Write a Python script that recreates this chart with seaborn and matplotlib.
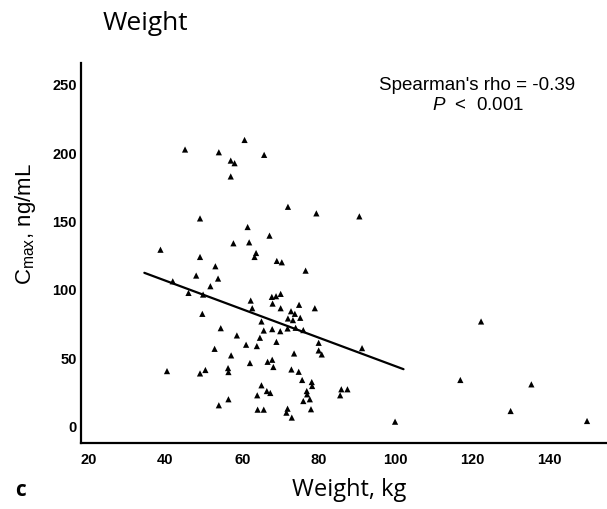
import matplotlib
matplotlib.use("Agg")
import matplotlib.pyplot as plt
from matplotlib.font_manager import FontProperties
import seaborn as sns
import pandas as pd

# Body weight (kg) and peak concentration (ng/mL) per subject
weight = [45.1, 53.9, 60.6, 65.7, 57.0, 58.0, 57.0, 71.9, 79.3, 90.5,
          49.0, 61.4, 67.1, 61.8, 57.7, 38.7, 63.6, 63.2, 49.0, 69.0,
          70.3, 53.0, 76.5, 48.0, 53.7, 41.9, 51.7, 46.0, 49.8, 70.0,
          67.7, 68.8, 62.2, 74.8, 67.9, 62.6, 70.0, 78.9, 72.7, 73.7,
          49.6, 75.1, 71.9, 73.2, 65.0, 122.2, 54.4, 71.8, 73.9, 67.8,
          65.6, 75.9, 69.9, 58.6, 64.6, 68.9, 79.9, 61.0, 63.8, 91.2,
          52.8, 79.9, 80.7, 73.5, 57.1, 62.0, 66.6, 67.8, 68.1, 56.3,
          56.4, 40.4, 50.4, 49.0, 72.8, 74.7, 75.6, 116.8, 78.1, 78.2,
          65.0, 135.3, 66.4, 67.3, 76.8, 76.9, 85.8, 87.4, 85.5, 63.9,
          77.6, 56.4, 75.9, 53.9, 71.8, 77.9, 64.0, 65.6, 71.5, 129.9,
          72.9, 99.8, 149.8]
cmax = [202.7, 200.7, 209.7, 198.8, 194.6, 192.7, 183.0, 160.8, 156.0, 153.8,
        152.3, 146.0, 139.7, 134.8, 134.1, 129.4, 127.0, 124.1, 124.1, 121.2,
        120.2, 117.3, 114.1, 110.5, 108.3, 106.3, 102.7, 97.8, 96.6, 97.1,
        94.9, 95.4, 92.2, 89.1, 90.0, 86.6, 86.6, 86.6, 84.4, 82.5,
        82.5, 79.6, 79.1, 77.9, 76.9, 76.9, 72.0, 71.8, 72.3, 71.3,
        70.3, 70.6, 69.8, 66.7, 65.0, 62.0, 61.3, 59.9, 58.9, 57.4,
        56.9, 55.7, 52.8, 53.5, 52.1, 46.5, 47.4, 48.9, 43.6, 42.8,
        39.9, 40.6, 41.4, 38.9, 41.8, 40.1, 34.1, 34.1, 32.6, 29.7,
        30.2, 30.9, 26.0, 24.6, 26.0, 23.6, 27.3, 27.3, 22.9, 22.9,
        20.0, 20.0, 18.7, 15.6, 13.1, 12.7, 12.4, 12.4, 10.2, 11.4,
        6.6, 3.6, 4.1]

# Trend line end points
fit_x = [34.5, 102.0]
fit_y = [112.5, 42.0]

x_ticks = [20, 40, 60, 80, 100, 120, 140]
y_ticks = [0, 50, 100, 150, 200, 250]

sns.set_style("white")
plt.rcParams["font.family"] = ["Open Sans", "DejaVu Sans"]
plt.rcParams["text.color"] = "black"
plt.rcParams["mathtext.fontset"] = "custom"
plt.rcParams["mathtext.rm"] = "Liberation Sans"
plt.rcParams["mathtext.it"] = "Liberation Sans:italic"

df = pd.DataFrame({"weight": weight, "cmax": cmax})
fit = pd.DataFrame({"x": fit_x, "y": fit_y})

fig = plt.figure(figsize=(6.07, 5.09), dpi=100)
ax = fig.add_axes([81 / 607, 66 / 509, 526 / 607, 380 / 509])

sns.scatterplot(data=df, x="weight", y="cmax", marker="^", s=20,
                color="black", edgecolor="none", ax=ax)
sns.lineplot(data=fit, x="x", y="y", color="black", linewidth=1.6, ax=ax)

ax.set_xlim(18, 155)
ax.set_ylim(-12, 266)
ax.set_xticks(x_ticks)
ax.set_yticks(y_ticks)
ax.set_xticklabels([str(t) for t in x_ticks])
ax.set_yticklabels([str(t) for t in y_ticks])
tick_fp = FontProperties(family=["Liberation Sans Narrow", "Liberation Sans"],
                         weight="bold", size=10.5)
for lab in ax.get_xticklabels() + ax.get_yticklabels():
    lab.set_fontproperties(tick_fp)
    lab.set_color("black")
ax.tick_params(axis="x", length=0, pad=7)
ax.tick_params(axis="y", length=0, pad=3)

for side in ["top", "right"]:
    ax.spines[side].set_visible(False)
for side in ["left", "bottom"]:
    ax.spines[side].set_color("black")
    ax.spines[side].set_linewidth(1.6)

ax.set_xlabel("")
ax.set_ylabel("")

fig.text(349 / 607, 1 - 490 / 509, "Weight, kg", ha="center", va="center",
         fontsize=17, color="black")
fig.text(26 / 607, 1 - 224 / 509, r"C$_{\mathrm{max}}$, ng/mL", rotation=90,
         ha="center", va="center", fontsize=16, family=["Liberation Sans"], color="black")
fig.text(103 / 607, 1 - 23 / 509, "Weight", ha="left", va="center", fontsize=19,
         color="black")
fig.text(15 / 607, 1 - 490 / 509, "c", ha="left", va="center", fontsize=15,
         fontweight="bold", color="black")

ann_font = ["Liberation Sans", "DejaVu Sans"]
fig.text(477 / 607, 1 - 85 / 509, "Spearman's rho = -0.39", ha="center", va="center",
         fontsize=13.5, family=ann_font, color="black")
fig.text(478 / 607, 1 - 105 / 509, r"$\mathit{P}$  <  0.001", ha="center", va="center",
         fontsize=13.5, family=ann_font, color="black")

fig.savefig("out.png", dpi=100)
